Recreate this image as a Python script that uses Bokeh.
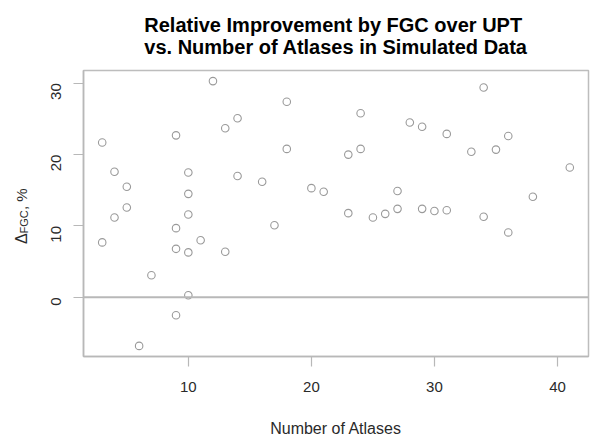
import math
from bokeh.plotting import figure
from bokeh.layouts import row
from bokeh.models import Range1d, FixedTicker, Span, Title
from bokeh.core.properties import value
from bokeh.embed import file_html
from bokeh.resources import INLINE

# ---- data ----
n_atlases = [3, 4, 5, 5, 4, 3, 7, 9, 10, 10, 10, 9, 9, 10, 11, 10, 9, 6, 12, 13,
             14, 14, 13, 16, 17, 18, 18, 20, 21, 24, 23, 24, 23, 25, 26, 27, 27, 28, 29, 29,
             30, 31, 31, 33, 34, 34, 35, 36, 36, 38, 41]
delta_fgc = [21.7, 17.6, 15.5, 12.6, 11.2, 7.7, 3.1, 22.7, 17.5, 14.5,
             11.6, 9.7, 6.8, 6.3, 8.0, 0.3, -2.5, -6.8, 30.3, 23.7,
             25.1, 17.0, 6.4, 16.2, 10.1, 27.4, 20.8, 15.3, 14.8, 25.8,
             20.0, 20.8, 11.8, 11.2, 11.7, 12.4, 14.9, 24.5, 23.9, 12.4,
             12.1, 12.2, 22.9, 20.4, 29.4, 11.3, 20.7, 22.6, 9.1, 14.1,
             18.2]
x_ticks = [10, 20, 30, 40]
y_ticks = [0, 10, 20, 30]
title_lines = ["Relative Improvement by FGC over UPT",
               "vs. Number of Atlases in Simulated Data"]
x_label = "Number of Atlases"
y_label_parts = ["\u0394", "FGC", ", %"]

# R-style 4% range extension
def ext(vals):
    lo, hi = min(vals), max(vals)
    d = (hi - lo) * 0.04
    return lo - d, hi + d

x0, x1 = ext(n_atlases)
y0, y1 = ext(delta_fgc)
yr = Range1d(y0, y1)

LW = 30                     # width of the strip that holds the y-axis title
FL, FT, FW, FH = 83, 70, 505, 286
W, H = 594, 440
FONT = "Liberation Sans"
GRAY = "#b8b8b8"
TXT = "#2a2a2a"

def ydat(py):
    # page pixel row -> y data value inside the (shared) frame
    return y1 - (py - FT) / FH * (y1 - y0)

# ---- left strip with the y-axis title (subscripted), frame aligned with the plot ----
lab = figure(title=None, width=LW, height=H, frame_width=LW, frame_height=FH,
             x_range=Range1d(0, LW), y_range=yr,
             output_backend="svg", toolbar_location=None,
             x_axis_location=None, y_axis_location=None,
             min_border_left=0, min_border_right=0,
             min_border_top=FT, min_border_bottom=H - FT - FH)
lab.outline_line_color = None
lab.xgrid.visible = False
lab.ygrid.visible = False

# Δ, subscript FGC, then ", %"  (rotated, reading bottom to top)
lab.text(x=[20.5], y=[ydat(243.5)], text=[y_label_parts[0]], angle=math.pi / 2,
         text_align="left", text_baseline="alphabetic", text_font=value(FONT),
         text_font_size="16px", text_color=TXT)
lab.text(x=[23.5], y=[ydat(233)], text=[y_label_parts[1]], angle=math.pi / 2,
         text_align="left", text_baseline="alphabetic", text_font=value(FONT),
         text_font_size="11px", text_color=TXT)
lab.text(x=[20.5], y=[ydat(209.5)], text=[y_label_parts[2]], angle=math.pi / 2,
         text_align="left", text_baseline="alphabetic", text_font=value(FONT),
         text_font_size="15px", text_color=TXT)

# ---- main scatter ----
p = figure(width=W - LW, height=H, frame_width=FW, frame_height=FH,
           x_range=Range1d(x0, x1), y_range=yr,
           output_backend="svg", toolbar_location=None,
           min_border_left=FL - LW, min_border_top=FT,
           min_border_right=W - FL - FW, min_border_bottom=H - FT - FH)
p.background_fill_color = "white"
p.border_fill_color = "white"
p.outline_line_color = "#bdbdbd"
p.outline_line_width = 1.5
p.xgrid.visible = False
p.ygrid.visible = False

for ax in (p.xaxis[0], p.yaxis[0]):
    ax.axis_line_color = GRAY
    ax.axis_line_width = 1.5
    ax.major_tick_line_color = GRAY
    ax.major_tick_line_width = 1.2
    ax.major_tick_out = 10
    ax.major_tick_in = 0
    ax.minor_tick_line_color = None
    ax.major_label_text_font = FONT
    ax.major_label_text_font_size = "15px"
    ax.major_label_text_color = TXT

p.xaxis.ticker = FixedTicker(ticks=x_ticks)
p.yaxis.ticker = FixedTicker(ticks=y_ticks)
p.xaxis.major_label_standoff = 15
p.yaxis.major_label_standoff = 17
p.yaxis.major_label_orientation = math.pi / 2

p.xaxis.axis_label = x_label
p.xaxis.axis_label_text_font = FONT
p.xaxis.axis_label_text_font_size = "16px"
p.xaxis.axis_label_text_font_style = "normal"
p.xaxis.axis_label_text_color = TXT
p.xaxis.axis_label_standoff = 25

# two-line title
p.add_layout(Title(text="\n".join(title_lines), align="center", text_font=FONT,
                   text_font_size="20px", text_font_style="bold",
                   text_line_height=1.0, text_color="black", standoff=22,
                   vertical_align="top"),
             "above")

# horizontal reference line at 0
p.add_layout(Span(location=0, dimension="width", line_color=GRAY, line_width=2))

p.scatter(n_atlases, delta_fgc, marker="circle", size=7.5, fill_color=None,
          line_color="#9a9a9a", line_width=1.1)

layout = row(lab, p, spacing=0)
open("out.html", "w").write(file_html(layout, INLINE))
